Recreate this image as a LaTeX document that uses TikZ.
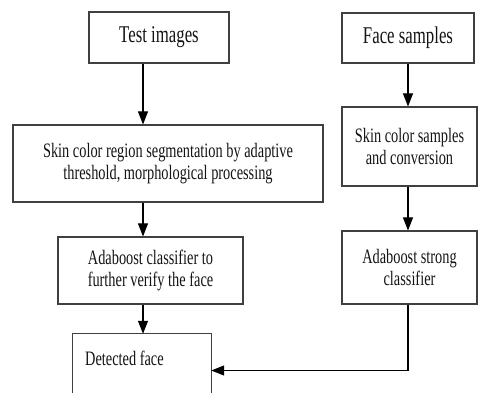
\documentclass[tikz,border=0pt]{standalone}
\usepackage{fontspec}
\usetikzlibrary{arrows.meta}
\newfontfamily\diafont[FakeStretch=0.7]{Liberation Serif}
\tikzset{
  box/.style={draw=black!75, line width=1.1pt, rectangle, inner sep=0pt,
    align=center, text=black!92, font=\diafont\fontsize{20.5}{22}\selectfont},
  titlebox/.style={box, font=\diafont\fontsize{24}{26}\selectfont},
  arr/.style={draw=black, line width=1.1pt, -{Triangle[length=13pt,width=10pt]}},
}
\begin{document}
\begin{tikzpicture}[x=1pt,y=-1pt]
  \useasboundingbox (0,0) rectangle (480,393);
  \clip (0,0) rectangle (480,393);

  % left column
  \node[titlebox, minimum width=140pt, minimum height=51pt] (test) at (159,37.5) {Test images};
  \node[box, minimum width=310pt, minimum height=77pt] (region) at (168,163.5)
    {Skin color region segmentation by adaptive\\threshold, morphological processing};
  \node[box, minimum width=185pt, minimum height=67pt] (verify) at (150.5,270.5)
    {Adaboost classifier to\\further verify the face};
  % open-bottomed result box
  \node[minimum width=138pt, minimum height=70pt, inner sep=0pt] (det) at (142,369) {};
  \draw[draw=black!75, line width=1.1pt] (det.south west) -- (det.north west) -- (det.north east) -- (det.south east);
  \node[anchor=base west, inner sep=0pt, text=black!92, font=\diafont\fontsize{20.5}{22}\selectfont]
    (dettext) at (85,366) {Detected face};

  % right column
  \node[titlebox, minimum width=132pt, minimum height=50pt] (face) at (408,38) {Face samples};
  \node[box, minimum width=135pt, minimum height=79pt] (samples) at (409.5,146.5)
    {Skin color samples\\and conversion};
  \node[box, minimum width=135pt, minimum height=73pt] (strong) at (409.5,267.5)
    {Adaboost strong\\classifier};

  % connector guides
  \coordinate (ax) at (143,0);
  \coordinate (bx) at (408,0);
  \coordinate (bend) at (408,370.5);

  \draw[arr] (test.south -| ax) -- (region.north -| ax);
  \draw[arr] (region.south -| ax) -- (verify.north -| ax);
  \draw[arr] (verify.south -| ax) -- (det.north -| ax);
  \draw[arr] (face.south -| bx) -- (samples.north -| bx);
  \draw[arr] (samples.south -| bx) -- (strong.north -| bx);
  \draw[arr] (strong.south -| bend) -- (bend) -- (det.east |- bend);
\end{tikzpicture}
\end{document}
